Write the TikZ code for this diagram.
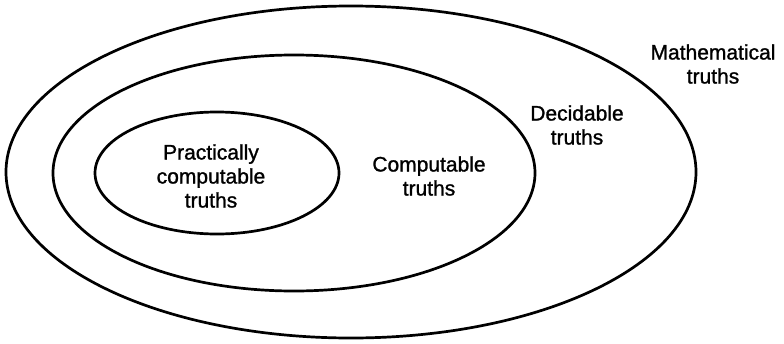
\documentclass[tikz,border=0pt]{standalone}
\usepackage{fontspec}
\setmainfont{Liberation Sans}[FakeBold=1.2]
\begin{document}
\begin{tikzpicture}[x=1pt,y=-1pt,
  ring/.style={line width=2.7pt},
  lbl/.style={align=center,inner sep=0pt,font=\fontsize{21}{24}\selectfont}]
\useasboundingbox (0,0) rectangle (784,343);
\draw[ring] (351,172) ellipse [x radius=345, y radius=166];
\draw[ring] (294,173) ellipse [x radius=241, y radius=118];
\draw[ring] (217,173) ellipse [x radius=122, y radius=61];
\node[lbl] (prac) at (211,176) {Practically\\computable\\truths};
\node[lbl] (comp) at (429,176) {Computable\\truths};
\node[lbl] (dec) at (577,125) {Decidable\\truths};
\node[lbl] (math) at (713,64) {Mathematical\\truths};
\end{tikzpicture}
\end{document}
